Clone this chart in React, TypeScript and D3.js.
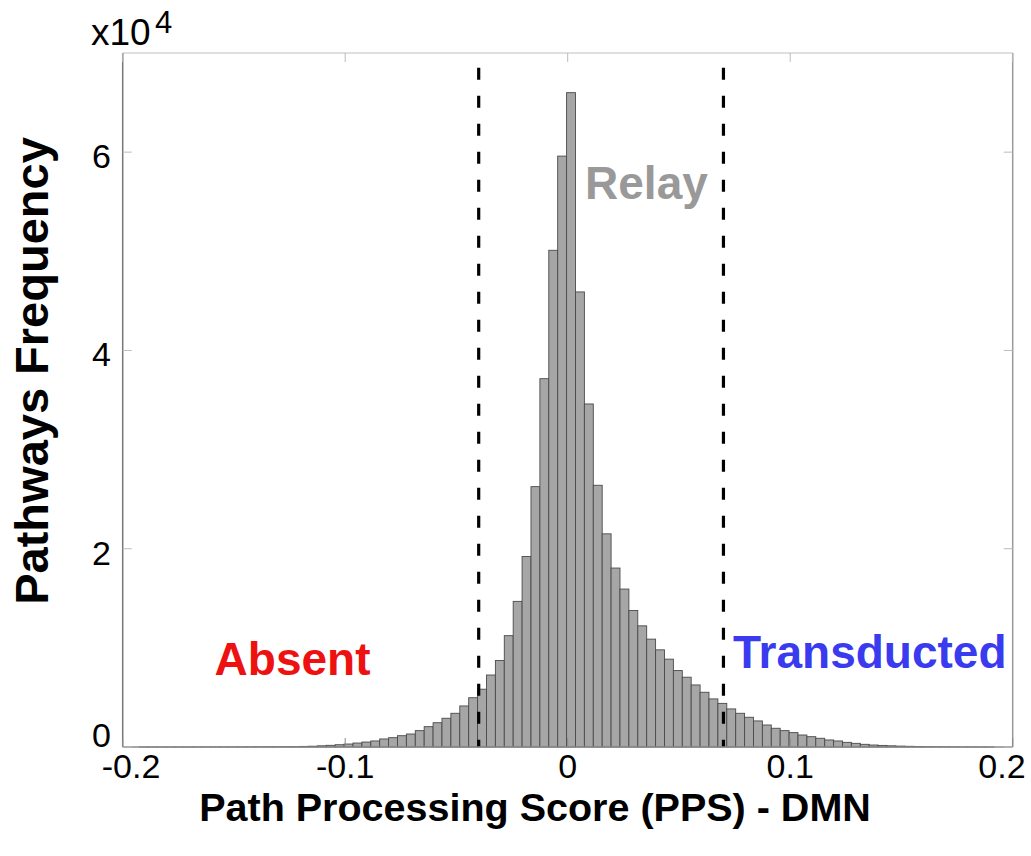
import React from 'react';
import * as d3 from 'd3';

// Histogram definition: 96 bins of width 0.004 starting at -0.1925
const binStart = -0.1925;
const binWidth = 0.004;
const counts = [
  2, 2, 3, 3, 4, 5, 6, 7, 8, 10, 12, 15, 18,
  20, 25, 30, 35, 40, 60, 80, 120, 170, 230, 300, 400, 500, 610, 810, 940,
  1140, 1310, 1650, 2050, 2450, 2900, 3400, 4140, 4970, 5830, 7260, 8730,
  11230, 14690, 19220, 26260, 37150, 50100, 59600,
  66000,
  45900, 34600, 26400, 21500, 18050, 15930, 13770, 12220, 10880, 9800,
  8860, 7710, 7040, 6260, 5520, 4850, 4400, 3840, 3400, 3000, 2630, 2220,
  1890, 1650, 1450, 1210, 1040, 880, 710, 610, 470, 370, 270, 200, 160,
  120, 90, 70, 50, 40, 30, 20, 15, 10, 8, 5, 3,
];

const xTicks = [-0.2, -0.1, 0, 0.1, 0.2];
const xTickLabels = ['-0.2', '-0.1', '0', '0.1', '0.2'];
const yTicks = [0, 20000, 40000, 60000];
const yTickLabels = ['0', '2', '4', '6'];
const thresholds = [-0.04, 0.07];
const thresholdTop = 68500;

const regionNames = ['Absent', 'Relay', 'Transducted'];
const regionX = [-0.1587, 0.0078, 0.0743];
const regionY = [7270, 55250, 7980];
const regionColors = ['#ee1111', '#999999', '#3a3aee'];

const xTitle = 'Path Processing Score (PPS) - DMN';
const yTitle = 'Pathways Frequency';

const W = 1031;
const H = 856;
const left = 122.7;
const right = 1012.7;
const top = 53;
const bottom = 747;
const font = '"Liberation Sans", Arial, Helvetica, sans-serif';

export default function App() {
  const x = d3.scaleLinear().domain([-0.2, 0.2]).range([left, right]);
  const y = d3.scaleLinear().domain([0, 70000]).range([bottom, top]);
  const tickLen = 9;
  // keep the outermost tick labels inside the picture, as in the reference
  const labelX = (v: number) => Math.max(131, Math.min(1002, x(v)));
  // the zero label sits just above the axis line, the others near their tick
  const labelY = (v: number) => (v === 0 ? y(v) : y(v) + 16);

  return (
    <svg
      width={W}
      height={H}
      viewBox={`0 0 ${W} ${H}`}
      style={{ position: 'absolute', left: 0, top: 0, background: '#fff' }}
      fontFamily={font}
    >
      <rect x={0} y={0} width={W} height={H} fill="#fff" />
      {/* bars */}
      <g>
        {counts.map((c, i) => {
          const x0 = binStart + i * binWidth;
          const x1 = x0 + binWidth;
          const h = y(0) - y(c);
          return (
            <rect
              key={i}
              x={x(x0)}
              y={y(c)}
              width={x(x1) - x(x0)}
              height={h}
              fill="#a6a6a6"
              stroke="#4a4a4a"
              strokeWidth={0.9}
            />
          );
        })}
      </g>
      {/* threshold lines */}
      {thresholds.map((t, i) => (
        <line
          key={i}
          x1={x(t)}
          x2={x(t)}
          y1={y(thresholdTop)}
          y2={y(0)}
          stroke="#000"
          strokeWidth={3.2}
          strokeDasharray="12 16"
        />
      ))}
      {/* axes box */}
      <line x1={left} x2={right} y1={top} y2={top} stroke="#d4d4d4" strokeWidth={1.5} />
      <line x1={right} x2={right} y1={top} y2={bottom} stroke="#9a9a9a" strokeWidth={1.5} />
      <line x1={left} x2={right} y1={bottom} y2={bottom} stroke="#8a8a8a" strokeWidth={1.5} />
      <line x1={left} x2={left} y1={top} y2={bottom} stroke="#777" strokeWidth={1.5} />
      {/* x ticks */}
      {xTicks.map((t, i) => (
        <g key={i}>
          <line x1={x(t)} x2={x(t)} y1={bottom} y2={bottom - tickLen} stroke="#888" strokeWidth={1} />
          <line x1={x(t)} x2={x(t)} y1={top} y2={top + tickLen} stroke="#bbb" strokeWidth={1} />
          <text x={labelX(t)} y={bottom + 31} textAnchor="middle" fontSize={34} fill="#000">
            {xTickLabels[i]}
          </text>
        </g>
      ))}
      {/* y ticks */}
      {yTicks.map((t, i) => (
        <g key={i}>
          <line x1={left} x2={left + tickLen} y1={y(t)} y2={y(t)} stroke="#bbb" strokeWidth={1} />
          <line x1={right} x2={right - tickLen} y1={y(t)} y2={y(t)} stroke="#bbb" strokeWidth={1} />
          <text x={111} y={labelY(t)} textAnchor="end" fontSize={34} fill="#000">
            {yTickLabels[i]}
          </text>
        </g>
      ))}
      {/* exponent */}
      <text x={91} y={45} fontSize={37} fill="#000">x10</text>
      <text x={155} y={33} fontSize={31} fill="#000">4</text>
      {/* region labels */}
      {regionNames.map((n, i) => (
        <text
          key={n}
          x={x(regionX[i])}
          y={y(regionY[i])}
          fontSize={46}
          fontWeight="bold"
          fill={regionColors[i]}
        >
          {n}
        </text>
      ))}
      {/* axis titles */}
      <text x={535} y={821} textAnchor="middle" fontSize={39.5} fontWeight="bold" fill="#000">
        {xTitle}
      </text>
      <text
        transform={`translate(48, 371) rotate(-90)`}
        textAnchor="middle"
        fontSize={47}
        fontWeight="bold"
        fill="#000"
      >
        {yTitle}
      </text>
    </svg>
  );
}
